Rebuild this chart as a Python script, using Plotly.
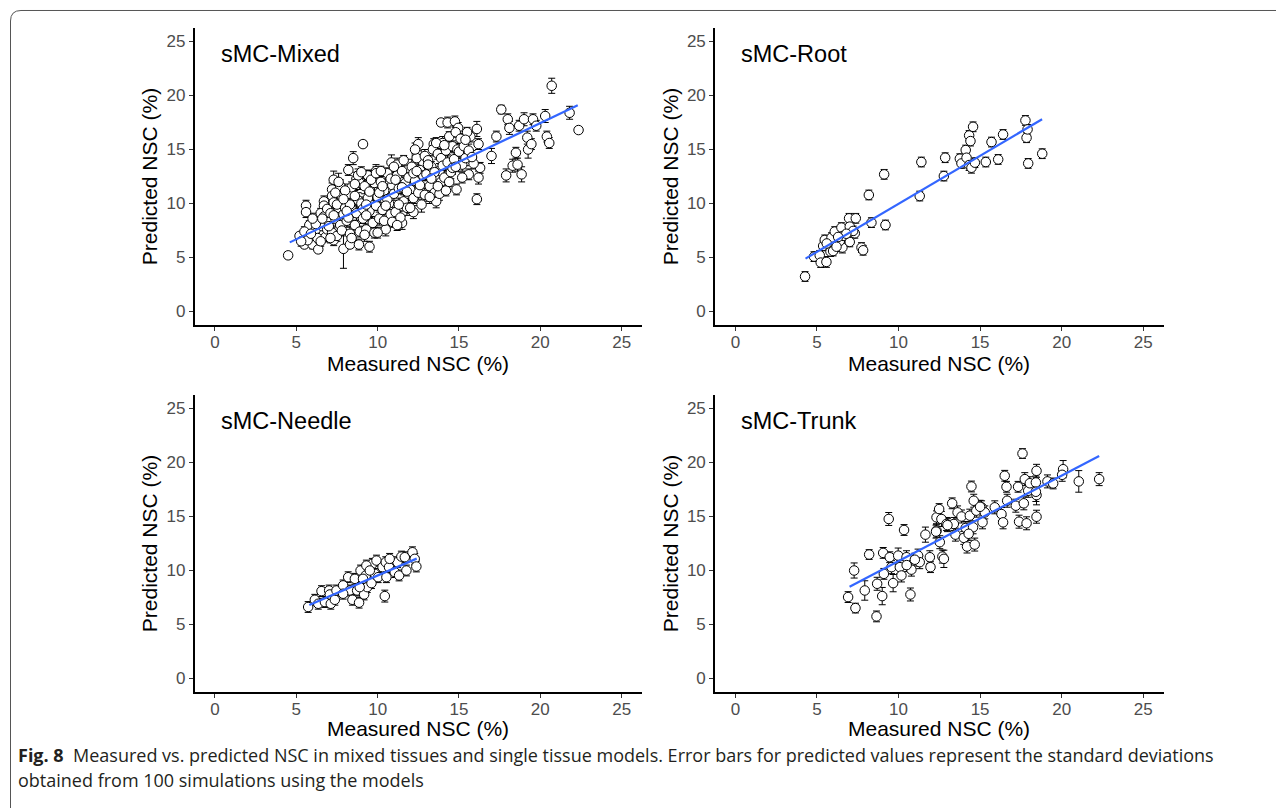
import plotly.graph_objects as go

W, H = 1284, 808
OFF = 8  # the page places the plot 8 px from the top-left corner

# ---------------- data ----------------
mixed_measured = [
    4.5, 5.2, 5.6, 5.6, 5.5, 5.8, 6.0, 6.35, 6.45, 6.7, 6.7, 6.7, 7.3, 7.2, 7.2, 7.3, 7.7, 7.9,
    8.2, 8.5, 8.3, 8.85, 9.1, 9.5, 9.5, 9.9, 10.85, 11.2, 11.5, 12.2, 12.4, 12.5, 12.8, 13.45,
    13.6, 13.9, 14.3, 14.75, 14.95, 14.85, 14.0, 15.6, 15.7, 16.1, 16.1, 16.2, 16.3, 16.2, 15.9,
    17.0, 17.3, 17.6, 17.9, 18.0, 18.1, 18.3, 18.5, 18.6, 18.85, 18.7, 19.2, 19.25, 19.0, 19.55,
    19.45, 19.75, 20.3, 20.4, 20.55, 20.7, 21.8, 22.35,
    6.1, 6.2, 6.3, 6.4, 6.5, 6.6, 6.7, 6.8, 6.9, 6.2, 6.5, 6.9,
    7.0, 7.1, 7.2, 7.3, 7.4, 7.5, 7.6, 7.7, 7.8, 7.9, 7.1, 7.4, 7.6, 7.8, 7.5, 7.3,
    8.0, 8.1, 8.2, 8.3, 8.4, 8.5, 8.6, 8.7, 8.8, 8.9, 8.0, 8.3, 8.6, 8.9, 8.2, 8.7, 8.4, 8.8,
    9.0, 9.1, 9.2, 9.3, 9.4, 9.5, 9.6, 9.7, 9.8, 9.9, 9.0, 9.2, 9.4, 9.6, 9.8, 9.1, 9.5, 9.9, 9.3,
    10.0, 10.1, 10.2, 10.3, 10.4, 10.5, 10.6, 10.7, 10.8, 10.9, 10.0, 10.2, 10.4, 10.6, 10.8, 10.1, 10.5, 10.9,
    11.0, 11.1, 11.2, 11.3, 11.4, 11.5, 11.6, 11.7, 11.8, 11.9, 11.0, 11.3, 11.6, 11.9, 11.2, 11.5,
    12.0, 12.1, 12.2, 12.3, 12.4, 12.5, 12.6, 12.7, 12.8, 12.9, 12.0, 12.3, 12.6, 12.9, 12.2,
    13.0, 13.1, 13.2, 13.3, 13.4, 13.5, 13.6, 13.7, 13.8, 13.9, 13.2, 13.6, 13.9, 13.5, 13.8, 13.7,
    14.0, 14.1, 14.2, 14.3, 14.4, 14.5, 14.6, 14.7, 14.8, 14.9, 14.2, 14.6, 14.4,
    15.0, 15.1, 15.2, 15.3, 15.4, 15.5, 15.6, 15.2,
    5.5, 5.7, 5.9, 5.3, 6.0,
    7.9, 8.6, 9.3, 10.3, 11.1, 11.8, 12.4, 13.1, 13.3, 14.1, 14.8, 15.4, 15.8, 6.6, 7.0, 8.1,
]
mixed_predicted = [
    5.2, 7.0, 9.8, 9.2, 6.2, 8.0, 6.2, 5.75, 6.55, 10.2, 9.8, 7.3, 12.2, 11.3, 10.7, 6.6, 11.6, 5.8,
    13.1, 14.2, 6.2, 6.2, 15.5, 6.0, 12.5, 13.0, 13.8, 13.6, 8.2, 9.2, 14.7, 15.5, 13.8, 15.5,
    10.2, 17.5, 17.5, 17.6, 17.0, 11.3, 15.6, 12.7, 16.2, 16.9, 10.4, 12.4, 13.3, 15.5, 13.7,
    14.4, 16.2, 18.7, 12.6, 17.8, 17.0, 13.5, 14.7, 13.6, 12.7, 17.2, 16.1, 15.0, 17.8, 17.8,
    15.5, 17.2, 18.1, 16.2, 15.6, 20.9, 18.4, 16.8,
    7.0, 7.6, 6.8, 8.3, 9.1, 7.9, 8.8, 6.9, 7.6, 8.1, 6.5, 9.5,
    8.3, 9.1, 7.3, 10.1, 8.6, 7.0, 9.6, 8.0, 10.6, 9.0, 6.8, 11.0, 12.0, 7.5, 9.9, 8.9,
    9.6, 8.4, 10.9, 7.2, 11.5, 9.3, 8.0, 12.3, 10.3, 7.4, 11.2, 9.9, 10.7, 11.9, 8.7, 9.1, 6.8, 12.6,
    10.0, 8.6, 11.6, 7.6, 12.6, 9.3, 10.8, 8.2, 11.9, 9.8, 12.9, 7.1, 10.5, 12.2, 7.3, 9.5, 11.1, 12.8, 8.9,
    10.6, 8.6, 12.0, 9.4, 11.2, 7.6, 12.8, 10.0, 9.0, 11.7, 7.3, 13.0, 8.4, 10.4, 12.3, 11.0, 9.8, 8.3,
    10.9, 9.2, 12.6, 11.4, 8.7, 13.0, 10.2, 11.9, 9.6, 12.4, 13.4, 9.9, 14.0, 10.9, 8.0, 11.5,
    11.3, 13.4, 10.5, 12.1, 14.2, 11.0, 13.1, 9.9, 12.6, 14.4, 9.6, 15.0, 11.7, 10.8, 12.8,
    12.7, 14.0, 11.6, 13.4, 15.0, 11.0, 12.4, 14.6, 13.0, 12.0, 10.6, 15.6, 14.2, 12.9, 10.9, 11.6,
    13.5, 12.4, 14.9, 13.8, 16.2, 12.9, 15.3, 14.1, 16.6, 15.0, 11.2, 13.3, 12.0,
    14.8, 16.0, 13.6, 15.3, 14.2, 16.6, 14.9, 12.4,
    7.4, 6.6, 7.2, 6.5, 8.6,
    10.4, 11.8, 9.9, 11.6, 12.2, 11.1, 13.0, 13.6, 12.3, 15.4, 13.4, 15.9, 14.3, 8.6, 7.9, 9.3,
]
mixed_sd = [
    0.3, 0.3, 0.5, 0.5, 0.3, 0.4, 0.4, 0.3, 0.5, 0.5, 0.5, 0.5, 0.8, 0.6, 0.5, 0.5, 0.6, 1.8,
    0.5, 0.6, 0.3, 0.5, 0.3, 0.5, 0.6, 0.6, 0.7, 0.6, 0.6, 0.6, 0.5, 0.6, 0.5, 0.5,
    0.6, 0.3, 0.5, 0.5, 0.5, 0.5, 0.6, 0.5, 0.5, 0.7, 0.5, 0.6, 0.5, 0.5, 0.5,
    0.7, 0.5, 0.4, 0.6, 0.5, 0.6, 0.6, 0.5, 0.6, 0.7, 0.5, 0.6, 0.8, 0.6, 0.5,
    0.5, 0.5, 0.6, 0.5, 0.5, 0.7, 0.6, 0.3,
    0.5, 0.45, 0.6, 0.5, 0.45, 0.6, 0.5, 0.45, 0.7, 0.5, 0.45, 0.6,
    0.6, 0.5, 0.45, 0.6, 0.7, 0.5, 0.45, 0.6, 0.5, 0.7, 0.45, 0.6, 0.8, 0.5, 0.6, 0.45,
    0.5, 0.6, 0.45, 0.7, 0.5, 0.6, 0.45, 0.6, 0.7, 0.5, 0.6, 0.45, 0.5, 0.6, 0.45, 0.7, 0.5, 0.6,
    0.6, 0.45, 0.7, 0.5, 0.45, 0.6, 0.5, 0.6, 0.7, 0.45, 0.5, 0.6, 0.45, 0.6, 0.5, 0.7, 0.45, 0.6, 0.5,
    0.45, 0.6, 0.5, 0.7, 0.45, 0.6, 0.5, 0.6, 0.45, 0.7, 0.5, 0.45, 0.6, 0.5, 0.6, 0.45, 0.7, 0.5,
    0.6, 0.45, 0.7, 0.5, 0.6, 0.45, 0.6, 0.5, 0.7, 0.45, 0.5, 0.6, 0.45, 0.6, 0.5, 0.6,
    0.45, 0.7, 0.5, 0.6, 0.45, 0.6, 0.5, 0.7, 0.45, 0.6, 0.5, 0.6, 0.45, 0.6, 0.5,
    0.6, 0.45, 0.7, 0.5, 0.6, 0.45, 0.6, 0.5, 0.7, 0.45, 0.6, 0.5, 0.6, 0.45, 0.6, 0.5,
    0.45, 0.6, 0.5, 0.7, 0.45, 0.6, 0.5, 0.6, 0.45, 0.6, 0.5, 0.6, 0.45,
    0.6, 0.45, 0.6, 0.5, 0.7, 0.45, 0.6, 0.5,
    0.45, 0.5, 0.6, 0.45, 0.5,
    0.6, 0.5, 0.45, 0.6, 0.5, 0.7, 0.45, 0.6, 0.5, 0.6, 0.45, 0.5, 0.6, 0.45, 0.5, 0.6,
]

root_measured = [
    4.27, 4.82, 5.17, 5.23, 5.58, 5.38, 5.48, 5.83, 5.89, 6.09, 5.99, 6.5, 6.56, 6.4, 6.97, 7.01,
    7.01, 7.32, 7.38, 7.22, 7.73, 7.83, 8.18, 8.34, 9.12, 9.2, 11.3, 11.4, 12.78, 12.86, 13.76,
    13.86, 14.12, 14.17, 14.33, 14.41, 14.57, 14.33, 14.47, 14.68, 15.35, 15.7, 16.11, 16.41,
    17.78, 17.85, 17.91, 17.95, 18.81, 6.2, 6.6, 5.6, 6.8, 6.3,
]
root_predicted = [
    3.24, 5.08, 5.2, 4.53, 4.59, 6.07, 6.63, 5.55, 6.84, 7.4, 5.6, 7.77, 5.92, 6.53, 8.63, 7.86,
    6.44, 7.24, 8.63, 7.46, 5.92, 5.67, 10.79, 8.23, 12.7, 8.01, 10.69, 13.84, 12.54, 14.24, 14.15,
    13.71, 14.95, 14.24, 16.3, 15.78, 17.1, 13.56, 13.31, 13.78, 13.84, 15.69, 14.08, 16.39,
    17.69, 16.09, 16.86, 13.71, 14.61, 6.0, 7.0, 6.3, 7.2, 6.9,
]
root_sd = [
    0.45, 0.45, 0.45, 0.45, 0.5, 0.45, 0.45, 0.45, 0.45, 0.45, 0.45, 0.45, 0.5, 0.45, 0.45, 0.45,
    0.45, 0.45, 0.45, 0.45, 0.45, 0.45, 0.45, 0.45, 0.45, 0.45, 0.45, 0.45, 0.45, 0.45, 0.45,
    0.45, 0.45, 0.45, 0.45, 0.45, 0.45, 0.5, 0.5, 0.45, 0.45, 0.45, 0.45, 0.45,
    0.45, 0.45, 0.45, 0.45, 0.45, 0.45, 0.45, 0.45, 0.45, 0.45,
]

needle_measured = [
    5.73, 6.14, 6.35, 6.55, 6.76, 7.02, 7.12, 7.06, 7.37, 7.47, 7.88, 8.19, 8.29, 8.45, 8.6, 8.74,
    8.86, 8.95, 9.07, 9.17, 9.27, 9.36, 9.62, 9.68, 9.83, 9.93, 10.03, 10.3, 10.44, 10.5, 10.54,
    10.7, 11.05, 11.22, 11.32, 11.46, 11.67, 11.77, 12.14, 12.28, 12.38, 9.31, 9.1, 8.9, 9.52,
    10.74, 7.88,
]
needle_predicted = [
    6.62, 7.29, 6.92, 8.09, 7.08, 8.15, 6.92, 7.78, 7.29, 8.15, 8.62, 9.38, 8.15, 7.29, 9.23, 8.15,
    7.02, 10.0, 8.62, 7.78, 9.54, 8.46, 8.83, 10.62, 9.69, 10.92, 9.38, 10.31, 7.63, 10.77, 9.38,
    10.31, 9.85, 10.77, 9.54, 11.29, 11.23, 10.0, 11.69, 11.08, 10.37, 10.46, 9.23, 8.46, 10.0,
    11.08, 7.85,
]
needle_sd = [
    0.5, 0.5, 0.5, 0.5, 0.5, 0.5, 0.5, 0.5, 0.5, 0.5, 0.5, 0.5, 0.5, 0.5, 0.5, 0.5,
    0.5, 0.5, 0.5, 0.5, 0.5, 0.5, 0.5, 0.5, 0.5, 0.5, 0.5, 0.5, 0.55, 0.5, 0.5,
    0.5, 0.5, 0.5, 0.5, 0.5, 0.5, 0.5, 0.5, 0.5, 0.5, 0.5, 0.5, 0.5, 0.5,
    0.5, 0.5,
]

trunk_measured = [
    6.91, 7.28, 7.36, 7.93, 8.2, 8.65, 8.69, 9.0, 9.06, 9.1, 9.4, 9.46, 9.57, 9.67, 9.98, 10.08,
    10.18, 10.34, 10.49, 10.73, 10.79, 11.2, 11.3, 11.65, 11.92, 11.96, 12.33, 12.33, 12.49, 12.53,
    12.63, 12.69, 12.78, 12.94, 13.29, 13.39, 13.49, 13.62, 13.86, 14.0, 14.12, 14.2, 14.37, 14.47,
    14.57, 14.61, 14.67, 14.77, 15.09, 15.15, 15.29, 15.9, 16.31, 16.41, 16.51, 16.62, 16.66,
    17.19, 17.33, 17.39, 17.6, 17.68, 17.74, 17.85, 17.95, 18.05, 18.42, 18.46, 18.46, 18.46,
    18.42, 19.13, 19.48, 20.09, 20.03, 21.05, 22.3, 10.5, 11.0, 12.3, 13.0, 14.3, 15.0,
]
trunk_predicted = [
    7.54, 10.0, 6.52, 8.15, 11.48, 5.75, 8.77, 7.63, 11.63, 9.69, 14.77, 11.23, 10.31, 8.83, 11.38,
    10.31, 9.54, 13.75, 11.23, 7.78, 10.08, 11.38, 10.77, 13.32, 11.23, 10.31, 13.69, 14.92, 15.69,
    12.62, 14.77, 11.29, 11.08, 14.31, 16.22, 14.31, 13.32, 15.38, 15.0, 13.02, 13.94, 12.22, 15.08,
    17.78, 14.0, 16.46, 12.4, 15.54, 15.85, 14.46, 15.38, 15.85, 15.23, 14.46, 18.77, 17.75, 16.46,
    16.0, 17.75, 14.52, 20.83, 16.22, 18.46, 14.37, 17.38, 18.08, 18.15, 19.23, 16.98, 14.98,
    17.29, 18.25, 18.06, 19.38, 18.86, 18.25, 18.46, 10.5, 11.0, 13.6, 14.2, 13.4, 15.9,
]
trunk_sd = [
    0.5, 0.7, 0.45, 0.9, 0.45, 0.5, 0.6, 0.8, 0.5, 0.5, 0.6, 0.5, 0.6, 0.8, 0.7, 0.6,
    0.6, 0.5, 0.6, 0.6, 0.6, 0.6, 0.6, 0.7, 0.6, 0.5, 0.6, 0.6, 0.5, 0.6,
    0.7, 0.6, 0.8, 0.6, 0.5, 0.6, 0.6, 0.6, 0.6, 0.6, 0.6, 0.6, 0.6,
    0.5, 0.6, 0.6, 0.6, 0.6, 0.6, 0.6, 0.6, 0.6, 0.6, 0.6, 0.5, 0.5, 0.6,
    0.6, 0.5, 0.6, 0.45, 0.6, 0.6, 0.6, 0.6, 0.6, 0.6, 0.6, 0.9, 0.6,
    0.9, 0.6, 0.5, 0.8, 0.6, 1.0, 0.6, 0.6, 0.6, 0.6, 0.6, 0.6, 0.6,
]

# fitted regression lines (end points)
mixed_fit_x = [4.6, 22.3]
mixed_fit_y = [6.4, 19.1]
root_fit_x = [4.3, 18.8]
root_fit_y = [4.9, 17.8]
needle_fit_x = [5.8, 12.4]
needle_fit_y = [6.8, 11.1]
trunk_fit_x = [7.0, 22.3]
trunk_fit_y = [8.5, 20.6]

panel_names = ["sMC-Mixed", "sMC-Root", "sMC-Needle", "sMC-Trunk"]
tick_values = [0, 5, 10, 15, 20, 25]
axis_range = [-1.25, 26.25]
x_title = "Measured NSC (%)"
y_title = "Predicted NSC (%)"
caption_bold = "Fig. 8"
caption_line1 = ("Measured vs. predicted NSC in mixed tissues and single tissue models. "
                 "Error bars for predicted values represent the standard deviations")
caption_line2 = "obtained from 100 simulations using the models"

# ---------------- figure ----------------
panels = [
    (mixed_measured, mixed_predicted, mixed_sd, mixed_fit_x, mixed_fit_y),
    (root_measured, root_predicted, root_sd, root_fit_x, root_fit_y),
    (needle_measured, needle_predicted, needle_sd, needle_fit_x, needle_fit_y),
    (trunk_measured, trunk_predicted, trunk_sd, trunk_fit_x, trunk_fit_y),
]

# pixel boxes of the plotting areas in the screenshot: (left, right, top, bottom)
boxes = [(194.6, 642, 28, 325), (715, 1163.6, 28, 325),
         (194.6, 642, 395, 692), (715, 1163.6, 395, 692)]
xtitle_y = [363, 363, 728, 728]  # centre of x-axis titles (screenshot pixels)


def fx_(x):
    return (x - OFF) / W


def fy_(y):
    return 1 - (y - OFF) / H


fig = go.Figure()
layout = dict(
    width=W, height=H, margin=dict(l=0, r=0, t=0, b=0),
    paper_bgcolor="white", plot_bgcolor="white", showlegend=False,
    font=dict(family="Liberation Sans, Arial, sans-serif", color="black"),
)
annotations = []
for i, (mx, my, sd, lx, ly) in enumerate(panels):
    k = "" if i == 0 else str(i + 1)
    xa, ya = "x" + k, "y" + k
    fig.add_trace(go.Scatter(
        x=mx, y=my, mode="markers", xaxis=xa, yaxis=ya,
        marker=dict(size=1, color="rgba(0,0,0,0)"),
        error_y=dict(type="data", array=sd, visible=True, color="black", thickness=1, width=3.5),
        hoverinfo="skip"))
    fig.add_trace(go.Scatter(
        x=mx, y=my, mode="markers", xaxis=xa, yaxis=ya,
        marker=dict(size=9.5, color="white", line=dict(color="black", width=1))))
    fig.add_trace(go.Scatter(
        x=lx, y=ly, mode="lines", xaxis=xa, yaxis=ya,
        line=dict(color="#3366FF", width=2.2)))
    l, r, t, b = boxes[i]
    common = dict(showline=True, linecolor="black", linewidth=1.6, mirror=False,
                  ticks="outside", ticklen=4, tickwidth=1.2, tickcolor="#333333",
                  showgrid=False, zeroline=False, range=axis_range,
                  tickvals=tick_values, ticktext=[str(v) for v in tick_values],
                  tickfont=dict(size=17, color="#4D4D4D", family="Liberation Sans, Arial"))
    layout["xaxis" + k] = dict(common, domain=[fx_(l), fx_(r)], anchor=ya,
                               ticklabelstandoff=-3)
    layout["yaxis" + k] = dict(common, domain=[fy_(b), fy_(t)], anchor=xa,
                               title=dict(text=y_title, standoff=3,
                                          font=dict(size=21, color="black")))
    annotations.append(dict(
        x=0.25, y=23.8, xref=xa, yref=ya, text=panel_names[i], showarrow=False,
        xanchor="left", yanchor="middle",
        font=dict(size=23.5, color="black", family="Liberation Sans, Arial")))
    annotations.append(dict(
        x=fx_((l + r) / 2), y=fy_(xtitle_y[i]), xref="paper", yref="paper",
        text=x_title, showarrow=False, xanchor="center", yanchor="middle",
        font=dict(size=21, color="black", family="Liberation Sans, Arial")))

cap_font = dict(size=18, color="#231F20", family="Open Sans, Noto Sans, sans-serif")
annotations.append(dict(
    x=fx_(16), y=fy_(755), xref="paper", yref="paper", xanchor="left", yanchor="middle",
    showarrow=False, font=cap_font,
    text="<b>" + caption_bold + "</b>&nbsp;&nbsp;" + caption_line1))
annotations.append(dict(
    x=fx_(16), y=fy_(780), xref="paper", yref="paper", xanchor="left", yanchor="middle",
    showarrow=False, font=cap_font, text=caption_line2))
layout["annotations"] = annotations


# rounded frame around the figure
def px(x, y):
    return f"{fx_(x):.5f},{fy_(y):.5f}"


frame_path = ("M " + px(10.5, 830) + " L " + px(10.5, 21) + " Q " + px(10.5, 10.5) + " "
              + px(21, 10.5) + " L " + px(1300, 10.5))
layout["shapes"] = [dict(type="path", xref="paper", yref="paper", path=frame_path,
                         line=dict(color="#555555", width=1))]

fig.update_layout(**layout)
fig.write_html("out.html")
